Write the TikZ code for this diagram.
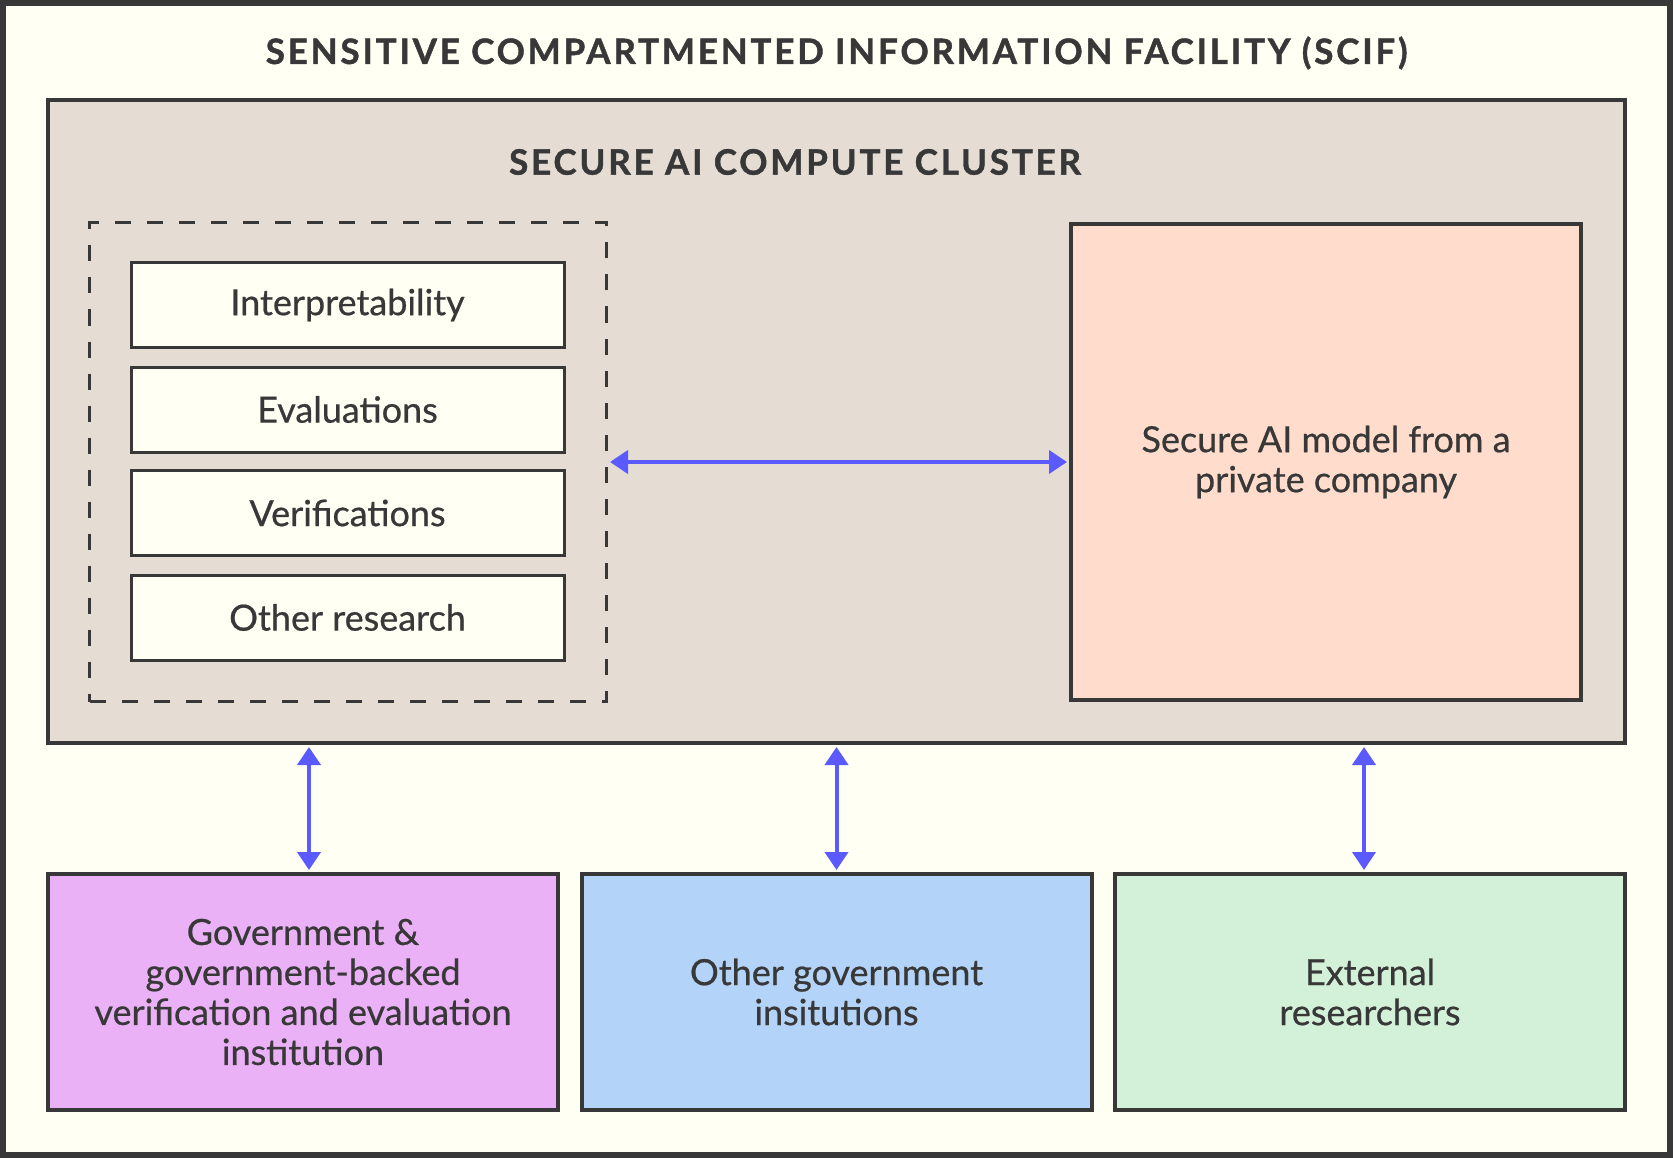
\documentclass[tikz,border=0pt]{standalone}
\usepackage{fontspec}
\setmainfont{Lato}
\newfontfamily\bodyfont{Lato}[FakeBold=0.6]
\newfontfamily\headfont{Lato}[LetterSpace=8.0, BoldFeatures={FakeBold=1.2}]
\usetikzlibrary{arrows.meta}
\definecolor{bg}{RGB}{255,255,243}
\definecolor{ink}{RGB}{56,56,56}
\definecolor{clusterfill}{RGB}{229,221,211}
\definecolor{privfill}{RGB}{255,220,204}
\definecolor{pinkfill}{RGB}{235,177,246}
\definecolor{bluefill}{RGB}{179,211,249}
\definecolor{greenfill}{RGB}{211,241,216}
\definecolor{arrowblue}{RGB}{90,90,255}
\tikzset{
  boxbase/.style={draw=ink, rectangle, inner sep=0pt, text=ink, align=center},
  smallbox/.style={boxbase, line width=3pt, fill=bg, minimum width=433pt, minimum height=85pt,
    font=\bodyfont\fontsize{36}{40}\selectfont},
  bigbox/.style={boxbase, line width=4pt, minimum width=510pt, font=\bodyfont\fontsize{36}{40}\selectfont},
  link/.style={draw=arrowblue, line width=4pt, {Triangle[length=18pt,width=23pt]}-{Triangle[length=18pt,width=23pt]},
    shorten >=2pt, shorten <=2pt},
  titletext/.style={text=ink, font=\headfont\bfseries\fontsize{35}{40}\selectfont, inner sep=0pt}
}
\begin{document}
\begin{tikzpicture}[x=1pt,y=-1pt]
\useasboundingbox (0,0) rectangle (1673,1158);
\fill[bg] (0,0) rectangle (1673,1158);
\draw[ink, line width=6pt] (3,3) rectangle (1670,1155);
\node[titletext] (scif) at (836.5,53) {SENSITIVE COMPARTMENTED INFORMATION FACILITY (SCIF)};
\node[boxbase, line width=4pt, fill=clusterfill, minimum width=1577pt, minimum height=643pt] (cluster) at (836.5,421.5) {};
\node[titletext] (clustertitle) at (795,162) {SECURE AI COMPUTE CLUSTER};
\node[draw=ink, line width=3pt, dash pattern=on 16pt off 16pt, rectangle, inner sep=0pt,
  minimum width=517pt, minimum height=479pt] (research) at (348,462) {};
\node[smallbox] (interp) at (347.5,305) {Interpretability};
\node[smallbox] (evals) at (347.5,409.5) {Evaluations};
\node[smallbox] (verif) at (347.5,513) {Verifications};
\node[smallbox] (other) at (347.5,617.5) {Other research};
\node[bigbox, fill=privfill, minimum height=476pt] (model) at (1326,462) {Secure AI model from a\\private company};
\node[bigbox, fill=pinkfill, minimum height=236pt] (gov) at (303,992) {Government \&\\government-backed\\verification and evaluation\\institution};
\node[bigbox, fill=bluefill, minimum height=236pt] (othergov) at (836.5,992) {Other government\\insitutions};
\node[bigbox, fill=greenfill, minimum height=236pt] (ext) at (1370,992) {External\\researchers};
\coordinate (ax1) at (309,0);
\coordinate (ax2) at (836.5,0);
\coordinate (ax3) at (1364,0);
\draw[link] (research.east) -- (research.east -| model.west);
\draw[link] (cluster.south -| ax1) -- (gov.north -| ax1);
\draw[link] (cluster.south -| ax2) -- (othergov.north -| ax2);
\draw[link] (cluster.south -| ax3) -- (ext.north -| ax3);
\end{tikzpicture}
\end{document}
